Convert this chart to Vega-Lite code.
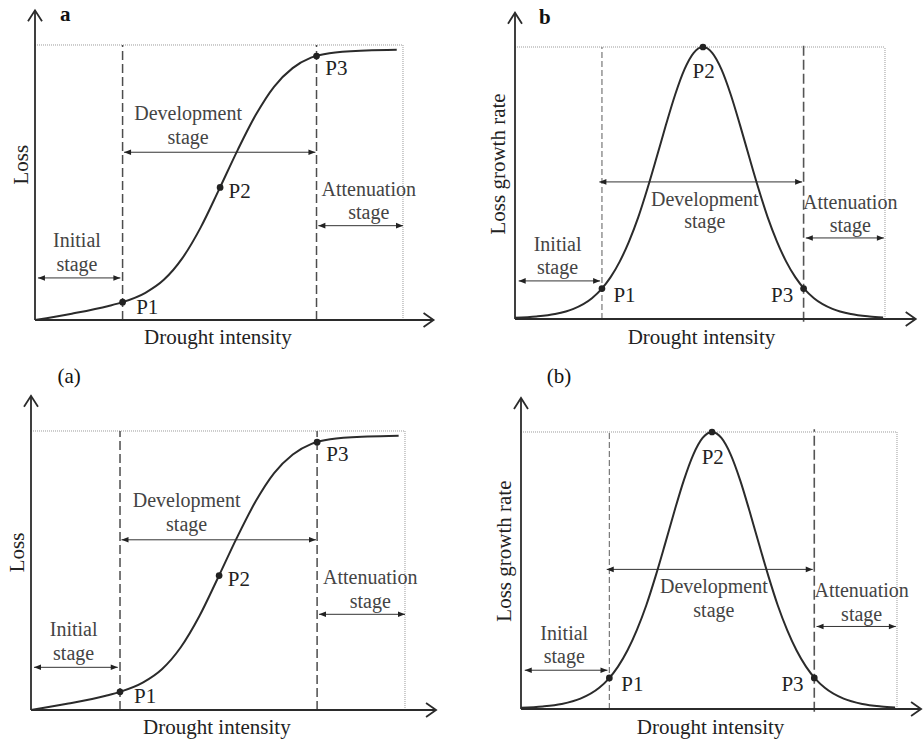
{
  "$schema": "https://vega.github.io/schema/vega-lite/v6.json",
  "padding": 0,
  "autosize": {"type": "pad"},
  "background": "white",
  "bounds": "flush",
  "spacing": 0,
  "columns": 2,
  "resolve": {"scale": {"x": "independent", "y": "independent"}},
  "config": {
    "view": {"stroke": null},
    "text": {"font": "Liberation Serif", "fontSize": 21}
  },
  "datasets": {
    "frame": [{"x": 0, "y": 1, "x2": 10, "y2": 1}, {"x": 10, "y": 0, "x2": 10, "y2": 1}],
    "axes": [{"x": 0, "y": 0, "x2": 0, "y2": 1.126}, {"x": 0, "y": 0, "x2": 10.83, "y2": 0}],
    "axis_tips": [{"x": 0, "y": 1.126, "dir": "up"}, {"x": 10.83, "y": 0, "dir": "right"}],
    "axes_br": [{"x": 0, "y": 0, "x2": 0, "y2": 1.123}, {"x": 0, "y": 0, "x2": 10.64, "y2": 0}],
    "axis_tips_br": [{"x": 0, "y": 1.123, "dir": "up"}, {"x": 10.64, "y": 0, "dir": "right"}],
    "L_dash": [{"x": 2.38, "y": 0, "x2": 2.38, "y2": 1, "boundary": "P1"}, {"x": 7.65, "y": 0, "x2": 7.65, "y2": 1, "boundary": "P3"}],
    "R_dash": [{"x": 2.35, "y": 0, "x2": 2.35, "y2": 1, "boundary": "P1"}, {"x": 7.8, "y": -0.01, "x2": 7.8, "y2": 1.01, "boundary": "P3"}],
    "L_span": [
      {"stage": "Initial", "x": 0.08, "y": 0.153, "x2": 2.32, "y2": 0.153},
      {"stage": "Development", "x": 2.42, "y": 0.61, "x2": 7.62, "y2": 0.61},
      {"stage": "Attenuation", "x": 7.7, "y": 0.343, "x2": 10, "y2": 0.343}
    ],
    "L_heads": [
      {"x": 0.08, "y": 0.153, "dir": "left"}, {"x": 2.32, "y": 0.153, "dir": "right"},
      {"x": 2.42, "y": 0.61, "dir": "left"}, {"x": 7.62, "y": 0.61, "dir": "right"},
      {"x": 7.7, "y": 0.343, "dir": "left"}, {"x": 10, "y": 0.343, "dir": "right"}
    ],
    "R_span": [
      {"stage": "Initial", "x": 0.1, "y": 0.14, "x2": 2.3, "y2": 0.14},
      {"stage": "Development", "x": 2.28, "y": 0.504, "x2": 7.76, "y2": 0.504},
      {"stage": "Attenuation", "x": 7.86, "y": 0.298, "x2": 9.97, "y2": 0.298}
    ],
    "R_heads": [
      {"x": 0.1, "y": 0.14, "dir": "left"}, {"x": 2.3, "y": 0.14, "dir": "right"},
      {"x": 2.28, "y": 0.504, "dir": "left"}, {"x": 7.76, "y": 0.504, "dir": "right"},
      {"x": 7.86, "y": 0.298, "dir": "left"}, {"x": 9.97, "y": 0.298, "dir": "right"}
    ],
    "S_curve": [
      {"x": 0, "y": 0}, {"x": 1, "y": 0.023}, {"x": 2, "y": 0.051}, {"x": 2.38, "y": 0.065},
      {"x": 3, "y": 0.099}, {"x": 3.5, "y": 0.146}, {"x": 4, "y": 0.224}, {"x": 4.5, "y": 0.336},
      {"x": 5, "y": 0.474}, {"x": 5.5, "y": 0.616}, {"x": 6, "y": 0.746}, {"x": 6.5, "y": 0.849},
      {"x": 7, "y": 0.916}, {"x": 7.5, "y": 0.954}, {"x": 8, "y": 0.97}, {"x": 9, "y": 0.98},
      {"x": 9.83, "y": 0.983}
    ],
    "bell_curve": [
      {"x": 0, "y": 0.0043}, {"x": 0.58, "y": 0.0092}, {"x": 1.08, "y": 0.0182}, {"x": 1.58, "y": 0.0372},
      {"x": 2.08, "y": 0.0765}, {"x": 2.33, "y": 0.1089}, {"x": 2.58, "y": 0.1529}, {"x": 2.83, "y": 0.211},
      {"x": 3.08, "y": 0.2847}, {"x": 3.33, "y": 0.3736}, {"x": 3.58, "y": 0.4796}, {"x": 3.83, "y": 0.5953},
      {"x": 4.08, "y": 0.7138}, {"x": 4.33, "y": 0.8255}, {"x": 4.58, "y": 0.9177}, {"x": 4.83, "y": 0.9786},
      {"x": 5.08, "y": 1}, {"x": 5.33, "y": 0.9786}, {"x": 5.58, "y": 0.9177}, {"x": 5.83, "y": 0.8255},
      {"x": 6.08, "y": 0.7138}, {"x": 6.33, "y": 0.5953}, {"x": 6.58, "y": 0.4796}, {"x": 6.83, "y": 0.3736},
      {"x": 7.08, "y": 0.2847}, {"x": 7.33, "y": 0.211}, {"x": 7.58, "y": 0.1529}, {"x": 7.83, "y": 0.1089},
      {"x": 8.08, "y": 0.0765}, {"x": 8.58, "y": 0.0372}, {"x": 9.08, "y": 0.0182}, {"x": 9.58, "y": 0.0092},
      {"x": 9.95, "y": 0.0052}
    ],
    "L_pts": [{"x": 2.38, "y": 0.065, "point": "P1"}, {"x": 5.03, "y": 0.482, "point": "P2"}, {"x": 7.65, "y": 0.96, "point": "P3"}],
    "R_pts": [{"x": 2.35, "y": 0.112, "point": "P1"}, {"x": 5.08, "y": 1, "point": "P2"}, {"x": 7.8, "y": 0.112, "point": "P3"}],
    "L_text": [
      {"x": 4.16, "y": 0.748, "label": "Development", "role": "stage"},
      {"x": 4.16, "y": 0.663, "label": "stage", "role": "stage"},
      {"x": 9.07, "y": 0.474, "label": "Attenuation", "role": "stage"},
      {"x": 9.07, "y": 0.388, "label": "stage", "role": "stage"},
      {"x": 1.14, "y": 0.286, "label": "Initial", "role": "stage"},
      {"x": 1.14, "y": 0.2, "label": "stage", "role": "stage"},
      {"x": 3.05, "y": 0.045, "label": "P1", "role": "point"},
      {"x": 5.56, "y": 0.467, "label": "P2", "role": "point"},
      {"x": 8.19, "y": 0.913, "label": "P3", "role": "point"},
      {"x": 4.97, "y": -0.065, "label": "Drought intensity", "role": "xtitle"},
      {"x": -0.35, "y": 0.565, "label": "Loss", "role": "ytitle"}
    ],
    "R_text": [
      {"x": 5.13, "y": 0.439, "label": "Development", "role": "stage"},
      {"x": 5.13, "y": 0.355, "label": "stage", "role": "stage"},
      {"x": 9.06, "y": 0.426, "label": "Attenuation", "role": "stage"},
      {"x": 9.06, "y": 0.341, "label": "stage", "role": "stage"},
      {"x": 1.15, "y": 0.272, "label": "Initial", "role": "stage"},
      {"x": 1.15, "y": 0.188, "label": "stage", "role": "stage"},
      {"x": 2.96, "y": 0.086, "label": "P1", "role": "point"},
      {"x": 5.1, "y": 0.907, "label": "P2", "role": "point"},
      {"x": 7.22, "y": 0.086, "label": "P3", "role": "point"},
      {"x": 5.04, "y": -0.07, "label": "Drought intensity", "role": "xtitle"},
      {"x": -0.42, "y": 0.57, "label": "Loss growth rate", "role": "ytitle"}
    ]
  },
  "concat": [
    {
      "width": 462, "height": 370,
      "encoding": {
        "x": {"field": "x", "type": "quantitative", "axis": null, "scale": {"domain": [-0.9511, 11.6033], "nice": false, "zero": false}},
        "y": {"field": "y", "type": "quantitative", "axis": null, "scale": {"domain": [-0.1818, 1.1636], "nice": false, "zero": false}}
      },
      "layer": [
        {"data": {"name": "frame"}, "mark": {"type": "rule", "color": "#9a9a9a", "strokeWidth": 1, "strokeDash": [1, 1]}, "encoding": {"x2": {"field": "x2"}, "y2": {"field": "y2"}}},
        {"data": {"name": "L_dash"}, "mark": {"type": "rule", "color": "#4d4d4d", "strokeWidth": 1.5, "strokeDash": [9, 4]}, "encoding": {"x2": {"field": "x2"}, "y2": {"field": "y2"}}},
        {"data": {"name": "axes"}, "mark": {"type": "rule", "color": "#2b2b2b", "strokeWidth": 1.8}, "encoding": {"x2": {"field": "x2"}, "y2": {"field": "y2"}}},
        {"data": {"name": "axis_tips"}, "transform": [{"filter": "datum.dir === 'up'"}], "mark": {"type": "point", "shape": "M-0.7,1.1L0,0L0.7,1.1", "size": 400, "filled": false, "stroke": "#2b2b2b", "strokeWidth": 1.8, "opacity": 1}, "encoding": {}},
        {"data": {"name": "axis_tips"}, "transform": [{"filter": "datum.dir === 'right'"}], "mark": {"type": "point", "shape": "M-1,-0.7L0,0L-1,0.7", "size": 400, "filled": false, "stroke": "#2b2b2b", "strokeWidth": 1.8, "opacity": 1}, "encoding": {}},
        {"data": {"name": "L_span"}, "mark": {"type": "rule", "color": "#333333", "strokeWidth": 1}, "encoding": {"x2": {"field": "x2"}, "y2": {"field": "y2"}}},
        {"data": {"name": "L_heads"}, "transform": [{"filter": "datum.dir === 'left'"}], "mark": {"type": "point", "shape": "M0,0L2,-0.8L2,0.8Z", "size": 49, "filled": true, "color": "#222222", "opacity": 1}, "encoding": {}},
        {"data": {"name": "L_heads"}, "transform": [{"filter": "datum.dir === 'right'"}], "mark": {"type": "point", "shape": "M0,0L-2,-0.8L-2,0.8Z", "size": 49, "filled": true, "color": "#222222", "opacity": 1}, "encoding": {}},
        {"data": {"name": "S_curve"}, "mark": {"type": "line", "color": "#2b2b2b", "strokeWidth": 2, "interpolate": "monotone"}, "encoding": {}},
        {"data": {"name": "L_pts"}, "mark": {"type": "circle", "size": 45, "color": "#222222", "opacity": 1}, "encoding": {}},
        {"data": {"name": "L_text"}, "transform": [{"filter": "datum.role === 'stage'"}], "mark": {"type": "text", "color": "#444444", "align": "center", "baseline": "middle", "fontSize": 20}, "encoding": {"text": {"field": "label", "type": "nominal"}}},
        {"data": {"name": "L_text"}, "transform": [{"filter": "datum.role === 'point' || datum.role === 'xtitle'"}], "mark": {"type": "text", "color": "#222222", "align": "center", "baseline": "middle"}, "encoding": {"text": {"field": "label", "type": "nominal"}}},
        {"data": {"name": "L_text"}, "transform": [{"filter": "datum.role === 'ytitle'"}], "mark": {"type": "text", "color": "#222222", "align": "center", "baseline": "middle", "angle": 270}, "encoding": {"text": {"field": "label", "type": "nominal"}}},
        {"data": {"values": [{"x": 0.82, "y": 1.109, "label": "a"}]}, "mark": {"type": "text", "color": "#111111", "align": "center", "baseline": "middle", "fontWeight": "bold"}, "encoding": {"text": {"field": "label", "type": "nominal"}}}
      ]
    },
    {
      "width": 462, "height": 370,
      "encoding": {
        "x": {"field": "x", "type": "quantitative", "axis": null, "scale": {"domain": [-1.4324, 11.0541], "nice": false, "zero": false}},
        "y": {"field": "y", "type": "quantitative", "axis": null, "scale": {"domain": [-0.1875, 1.1728], "nice": false, "zero": false}}
      },
      "layer": [
        {"data": {"name": "frame"}, "mark": {"type": "rule", "color": "#9a9a9a", "strokeWidth": 1, "strokeDash": [1, 1]}, "encoding": {"x2": {"field": "x2"}, "y2": {"field": "y2"}}},
        {"data": {"name": "R_dash"}, "transform": [{"filter": "datum.boundary === 'P1'"}], "mark": {"type": "rule", "color": "#777777", "strokeWidth": 1.2, "strokeDash": [6, 3]}, "encoding": {"x2": {"field": "x2"}, "y2": {"field": "y2"}}},
        {"data": {"name": "R_dash"}, "transform": [{"filter": "datum.boundary === 'P3'"}], "mark": {"type": "rule", "color": "#555555", "strokeWidth": 1.6, "strokeDash": [10, 4]}, "encoding": {"x2": {"field": "x2"}, "y2": {"field": "y2"}}},
        {"data": {"name": "axes"}, "mark": {"type": "rule", "color": "#2b2b2b", "strokeWidth": 1.8}, "encoding": {"x2": {"field": "x2"}, "y2": {"field": "y2"}}},
        {"data": {"name": "axis_tips"}, "transform": [{"filter": "datum.dir === 'up'"}], "mark": {"type": "point", "shape": "M-0.7,1.1L0,0L0.7,1.1", "size": 400, "filled": false, "stroke": "#2b2b2b", "strokeWidth": 1.8, "opacity": 1}, "encoding": {}},
        {"data": {"name": "axis_tips"}, "transform": [{"filter": "datum.dir === 'right'"}], "mark": {"type": "point", "shape": "M-1,-0.7L0,0L-1,0.7", "size": 400, "filled": false, "stroke": "#2b2b2b", "strokeWidth": 1.8, "opacity": 1}, "encoding": {}},
        {"data": {"name": "R_span"}, "mark": {"type": "rule", "color": "#333333", "strokeWidth": 1}, "encoding": {"x2": {"field": "x2"}, "y2": {"field": "y2"}}},
        {"data": {"name": "R_heads"}, "transform": [{"filter": "datum.dir === 'left'"}], "mark": {"type": "point", "shape": "M0,0L2,-0.8L2,0.8Z", "size": 49, "filled": true, "color": "#222222", "opacity": 1}, "encoding": {}},
        {"data": {"name": "R_heads"}, "transform": [{"filter": "datum.dir === 'right'"}], "mark": {"type": "point", "shape": "M0,0L-2,-0.8L-2,0.8Z", "size": 49, "filled": true, "color": "#222222", "opacity": 1}, "encoding": {}},
        {"data": {"name": "bell_curve"}, "mark": {"type": "line", "color": "#2b2b2b", "strokeWidth": 2, "interpolate": "monotone"}, "encoding": {}},
        {"data": {"name": "R_pts"}, "mark": {"type": "circle", "size": 45, "color": "#222222", "opacity": 1}, "encoding": {}},
        {"data": {"name": "R_text"}, "transform": [{"filter": "datum.role === 'stage'"}], "mark": {"type": "text", "color": "#444444", "align": "center", "baseline": "middle", "fontSize": 20}, "encoding": {"text": {"field": "label", "type": "nominal"}}},
        {"data": {"name": "R_text"}, "transform": [{"filter": "datum.role === 'point' || datum.role === 'xtitle'"}], "mark": {"type": "text", "color": "#222222", "align": "center", "baseline": "middle"}, "encoding": {"text": {"field": "label", "type": "nominal"}}},
        {"data": {"name": "R_text"}, "transform": [{"filter": "datum.role === 'ytitle'"}], "mark": {"type": "text", "color": "#222222", "align": "center", "baseline": "middle", "angle": 270}, "encoding": {"text": {"field": "label", "type": "nominal"}}},
        {"data": {"values": [{"x": 0.81, "y": 1.107, "label": "b"}]}, "mark": {"type": "text", "color": "#111111", "align": "center", "baseline": "middle", "fontWeight": "bold"}, "encoding": {"text": {"field": "label", "type": "nominal"}}}
      ]
    },
    {
      "width": 462, "height": 370,
      "encoding": {
        "x": {"field": "x", "type": "quantitative", "axis": null, "scale": {"domain": [-0.8289, 11.5241], "nice": false, "zero": false}},
        "y": {"field": "y", "type": "quantitative", "axis": null, "scale": {"domain": [-0.1075, 1.2186], "nice": false, "zero": false}}
      },
      "layer": [
        {"data": {"name": "frame"}, "mark": {"type": "rule", "color": "#9a9a9a", "strokeWidth": 1, "strokeDash": [1, 1]}, "encoding": {"x2": {"field": "x2"}, "y2": {"field": "y2"}}},
        {"data": {"name": "L_dash"}, "mark": {"type": "rule", "color": "#4d4d4d", "strokeWidth": 1.5, "strokeDash": [9, 4]}, "encoding": {"x2": {"field": "x2"}, "y2": {"field": "y2"}}},
        {"data": {"name": "axes"}, "mark": {"type": "rule", "color": "#2b2b2b", "strokeWidth": 1.8}, "encoding": {"x2": {"field": "x2"}, "y2": {"field": "y2"}}},
        {"data": {"name": "axis_tips"}, "transform": [{"filter": "datum.dir === 'up'"}], "mark": {"type": "point", "shape": "M-0.7,1.1L0,0L0.7,1.1", "size": 400, "filled": false, "stroke": "#2b2b2b", "strokeWidth": 1.8, "opacity": 1}, "encoding": {}},
        {"data": {"name": "axis_tips"}, "transform": [{"filter": "datum.dir === 'right'"}], "mark": {"type": "point", "shape": "M-1,-0.7L0,0L-1,0.7", "size": 400, "filled": false, "stroke": "#2b2b2b", "strokeWidth": 1.8, "opacity": 1}, "encoding": {}},
        {"data": {"name": "L_span"}, "mark": {"type": "rule", "color": "#333333", "strokeWidth": 1}, "encoding": {"x2": {"field": "x2"}, "y2": {"field": "y2"}}},
        {"data": {"name": "L_heads"}, "transform": [{"filter": "datum.dir === 'left'"}], "mark": {"type": "point", "shape": "M0,0L2,-0.8L2,0.8Z", "size": 49, "filled": true, "color": "#222222", "opacity": 1}, "encoding": {}},
        {"data": {"name": "L_heads"}, "transform": [{"filter": "datum.dir === 'right'"}], "mark": {"type": "point", "shape": "M0,0L-2,-0.8L-2,0.8Z", "size": 49, "filled": true, "color": "#222222", "opacity": 1}, "encoding": {}},
        {"data": {"name": "S_curve"}, "mark": {"type": "line", "color": "#2b2b2b", "strokeWidth": 2, "interpolate": "monotone"}, "encoding": {}},
        {"data": {"name": "L_pts"}, "mark": {"type": "circle", "size": 45, "color": "#222222", "opacity": 1}, "encoding": {}},
        {"data": {"name": "L_text"}, "transform": [{"filter": "datum.role === 'stage'"}], "mark": {"type": "text", "color": "#444444", "align": "center", "baseline": "middle", "fontSize": 20}, "encoding": {"text": {"field": "label", "type": "nominal"}}},
        {"data": {"name": "L_text"}, "transform": [{"filter": "datum.role === 'point' || datum.role === 'xtitle'"}], "mark": {"type": "text", "color": "#222222", "align": "center", "baseline": "middle"}, "encoding": {"text": {"field": "label", "type": "nominal"}}},
        {"data": {"name": "L_text"}, "transform": [{"filter": "datum.role === 'ytitle'"}], "mark": {"type": "text", "color": "#222222", "align": "center", "baseline": "middle", "angle": 270}, "encoding": {"text": {"field": "label", "type": "nominal"}}},
        {"data": {"values": [{"x": 1.02, "y": 1.194, "label": "(a)"}]}, "mark": {"type": "text", "color": "#111111", "align": "center", "baseline": "middle"}, "encoding": {"text": {"field": "label", "type": "nominal"}}}
      ]
    },
    {
      "width": 462, "height": 370,
      "encoding": {
        "x": {"field": "x", "type": "quantitative", "axis": null, "scale": {"domain": [-1.5691, 10.7181], "nice": false, "zero": false}},
        "y": {"field": "y", "type": "quantitative", "axis": null, "scale": {"domain": [-0.1119, 1.2238], "nice": false, "zero": false}}
      },
      "layer": [
        {"data": {"name": "frame"}, "mark": {"type": "rule", "color": "#9a9a9a", "strokeWidth": 1, "strokeDash": [1, 1]}, "encoding": {"x2": {"field": "x2"}, "y2": {"field": "y2"}}},
        {"data": {"name": "R_dash"}, "transform": [{"filter": "datum.boundary === 'P1'"}], "mark": {"type": "rule", "color": "#777777", "strokeWidth": 1.2, "strokeDash": [6, 3]}, "encoding": {"x2": {"field": "x2"}, "y2": {"field": "y2"}}},
        {"data": {"name": "R_dash"}, "transform": [{"filter": "datum.boundary === 'P3'"}], "mark": {"type": "rule", "color": "#555555", "strokeWidth": 1.6, "strokeDash": [10, 4]}, "encoding": {"x2": {"field": "x2"}, "y2": {"field": "y2"}}},
        {"data": {"name": "axes_br"}, "mark": {"type": "rule", "color": "#2b2b2b", "strokeWidth": 1.8}, "encoding": {"x2": {"field": "x2"}, "y2": {"field": "y2"}}},
        {"data": {"name": "axis_tips_br"}, "transform": [{"filter": "datum.dir === 'up'"}], "mark": {"type": "point", "shape": "M-0.7,1.1L0,0L0.7,1.1", "size": 400, "filled": false, "stroke": "#2b2b2b", "strokeWidth": 1.8, "opacity": 1}, "encoding": {}},
        {"data": {"name": "axis_tips_br"}, "transform": [{"filter": "datum.dir === 'right'"}], "mark": {"type": "point", "shape": "M-1,-0.7L0,0L-1,0.7", "size": 400, "filled": false, "stroke": "#2b2b2b", "strokeWidth": 1.8, "opacity": 1}, "encoding": {}},
        {"data": {"name": "R_span"}, "mark": {"type": "rule", "color": "#333333", "strokeWidth": 1}, "encoding": {"x2": {"field": "x2"}, "y2": {"field": "y2"}}},
        {"data": {"name": "R_heads"}, "transform": [{"filter": "datum.dir === 'left'"}], "mark": {"type": "point", "shape": "M0,0L2,-0.8L2,0.8Z", "size": 49, "filled": true, "color": "#222222", "opacity": 1}, "encoding": {}},
        {"data": {"name": "R_heads"}, "transform": [{"filter": "datum.dir === 'right'"}], "mark": {"type": "point", "shape": "M0,0L-2,-0.8L-2,0.8Z", "size": 49, "filled": true, "color": "#222222", "opacity": 1}, "encoding": {}},
        {"data": {"name": "bell_curve"}, "mark": {"type": "line", "color": "#2b2b2b", "strokeWidth": 2, "interpolate": "monotone"}, "encoding": {}},
        {"data": {"name": "R_pts"}, "mark": {"type": "circle", "size": 45, "color": "#222222", "opacity": 1}, "encoding": {}},
        {"data": {"name": "R_text"}, "transform": [{"filter": "datum.role === 'stage'"}], "mark": {"type": "text", "color": "#444444", "align": "center", "baseline": "middle", "fontSize": 20}, "encoding": {"text": {"field": "label", "type": "nominal"}}},
        {"data": {"name": "R_text"}, "transform": [{"filter": "datum.role === 'point' || datum.role === 'xtitle'"}], "mark": {"type": "text", "color": "#222222", "align": "center", "baseline": "middle"}, "encoding": {"text": {"field": "label", "type": "nominal"}}},
        {"data": {"name": "R_text"}, "transform": [{"filter": "datum.role === 'ytitle'"}], "mark": {"type": "text", "color": "#222222", "align": "center", "baseline": "middle", "angle": 270}, "encoding": {"text": {"field": "label", "type": "nominal"}}},
        {"data": {"values": [{"x": 1.01, "y": 1.199, "label": "(b)"}]}, "mark": {"type": "text", "color": "#111111", "align": "center", "baseline": "middle"}, "encoding": {"text": {"field": "label", "type": "nominal"}}}
      ]
    }
  ]
}
